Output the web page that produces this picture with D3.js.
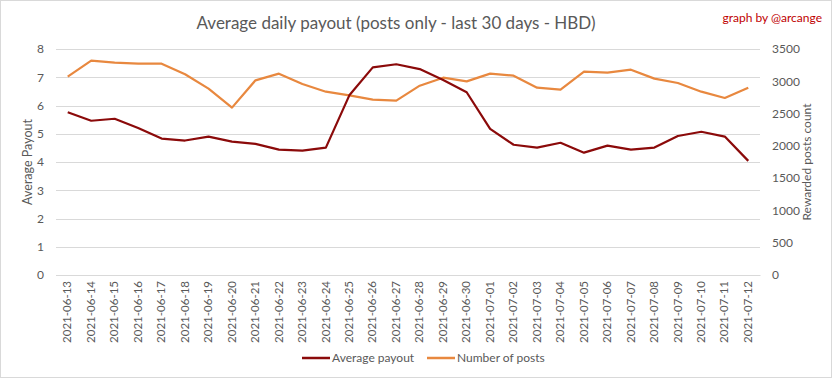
<!DOCTYPE html>
<html><head><meta charset="utf-8">
<script src="https://cdn.jsdelivr.net/npm/d3@7"></script>
<style>body{margin:0;background:#fff}svg{display:block}text{font-family:Lato,"Open Sans",sans-serif}</style>
</head><body><svg id="c" width="833" height="379"></svg>
<script>
const dates = ["2021-06-13","2021-06-14","2021-06-15","2021-06-16","2021-06-17","2021-06-18","2021-06-19","2021-06-20","2021-06-21","2021-06-22","2021-06-23","2021-06-24","2021-06-25","2021-06-26","2021-06-27","2021-06-28","2021-06-29","2021-06-30","2021-07-01","2021-07-02","2021-07-03","2021-07-04","2021-07-05","2021-07-06","2021-07-07","2021-07-08","2021-07-09","2021-07-10","2021-07-11","2021-07-12"];
const avgPayout = [5.76,5.46,5.53,5.20,4.83,4.76,4.90,4.72,4.64,4.44,4.40,4.51,6.36,7.35,7.46,7.29,6.90,6.47,5.17,4.61,4.51,4.68,4.33,4.58,4.44,4.51,4.92,5.07,4.90,4.04];
const numPosts = [3072,3319,3288,3273,3273,3108,2886,2592,3015,3118,2958,2839,2783,2715,2700,2932,3056,2999,3118,3087,2901,2870,3149,3134,3180,3041,2974,2839,2741,2901];
const leftTicks = [0,1,2,3,4,5,6,7,8];
const rightTicks = [0,500,1000,1500,2000,2500,3000,3500];
const title = "Average daily payout (posts only - last 30 days - HBD)";

const svg = d3.select("#c");
const L = 56, R = 760, T = 49, B = 275;
const x = d3.scaleBand().domain(dates).range([L, R]);
const yL = d3.scaleLinear().domain([0, 8]).range([B, T]);
const yR = d3.scaleLinear().domain([0, 3500]).range([B, T]);
const grey = "#595959";

svg.append("rect").attr("x",0.5).attr("y",0.5).attr("width",831).attr("height",377).attr("fill","#fff").attr("stroke","#d9d9d9");

// grid
svg.append("g").selectAll("line").data(leftTicks).join("line")
  .attr("x1", L).attr("x2", R).attr("y1", d => Math.round(yL(d))+0.5).attr("y2", d => Math.round(yL(d))+0.5)
  .attr("stroke", "#d9d9d9").attr("stroke-width", 1);

// left axis
const gl = svg.append("g").attr("transform", `translate(${L},0)`)
  .call(d3.axisLeft(yL).tickValues(leftTicks).tickSize(0).tickPadding(12));
gl.select(".domain").remove();
gl.selectAll("text").attr("fill", grey).style("font-size", "12px");

// right axis
const gr = svg.append("g").attr("transform", `translate(${R},0)`)
  .call(d3.axisRight(yR).tickValues(rightTicks).tickFormat(d3.format("d")).tickSize(0).tickPadding(12));
gr.select(".domain").remove();
gr.selectAll("text").attr("fill", grey).style("font-size", "12px");

// x axis
const gx = svg.append("g").attr("transform", `translate(0,${B})`)
  .call(d3.axisBottom(x).tickSize(0).tickPadding(6));
gx.select(".domain").attr("stroke", "#d9d9d9");
gx.selectAll("text").attr("fill", grey).style("font-size", "11.5px")
  .attr("transform", "rotate(-90)").attr("text-anchor", "end").attr("dx", "-6px").attr("dy", "0.32em").attr("y", 0).attr("x", 0);

// lines
const cx = d => x(d) + x.bandwidth()/2;
svg.append("path").datum(numPosts).attr("fill","none").attr("stroke","#e8883f").attr("stroke-width",2.2).attr("stroke-linejoin","round")
  .attr("d", d3.line().x((d,i) => cx(dates[i])).y(d => yR(d)));
svg.append("path").datum(avgPayout).attr("fill","none").attr("stroke","#8b0a0a").attr("stroke-width",2.2).attr("stroke-linejoin","round")
  .attr("d", d3.line().x((d,i) => cx(dates[i])).y(d => yL(d)));

// titles
svg.append("text").attr("x", 396).attr("y", 29).attr("text-anchor","middle").attr("fill", grey).style("font-size","17px").text(title);
svg.append("text").attr("x", 822).attr("y", 22).attr("text-anchor","end").attr("fill", "#c00000").style("font-size","12px").text("graph by @arcange");
svg.append("text").attr("transform", "translate(32,162) rotate(-90)").attr("text-anchor","middle").attr("fill", grey).style("font-size","12.5px").text("Average Payout");
svg.append("text").attr("transform", "translate(811,162) rotate(-90)").attr("text-anchor","middle").attr("fill", grey).style("font-size","12px").text("Rewarded posts count");

// legend
const leg = [{n:"Average payout", c:"#8b0a0a", x:302},{n:"Number of posts", c:"#e8883f", x:427}];
const lg = svg.append("g").selectAll("g").data(leg).join("g").attr("transform", d => `translate(${d.x},358)`);
lg.append("line").attr("x1",0).attr("x2",28).attr("y1",0).attr("y2",0).attr("stroke", d => d.c).attr("stroke-width",2.5);
lg.append("text").attr("x",30).attr("y",0).attr("dy","0.35em").attr("fill",grey).style("font-size","12px").text(d => d.n);
</script></body></html>
